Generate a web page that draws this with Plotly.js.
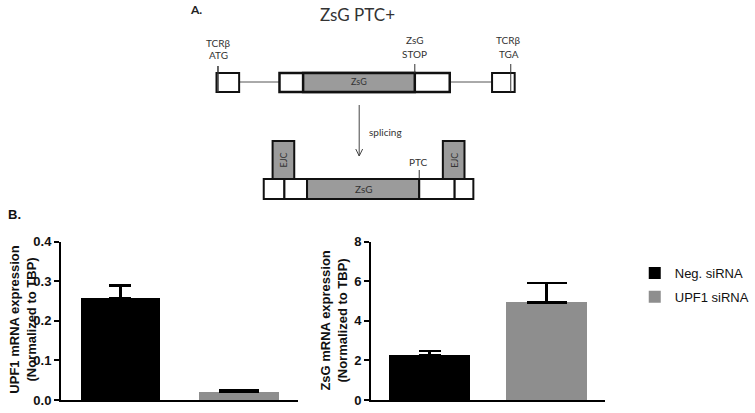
<!DOCTYPE html>
<html><head><meta charset="utf-8">
<script src="https://cdn.plot.ly/plotly-3.0.1.min.js"></script>
<style>html,body{margin:0;padding:0;background:#fff;overflow:hidden;width:755px;height:413px}#chart{width:755px;height:413px;overflow:hidden}</style>
</head><body><div id="chart"></div><script>
// ---- data ----
const categories = ['Neg. siRNA', 'UPF1 siRNA'];
const upf1Values = [0.257, 0.021];
const upf1Errors = [0.032, 0.0025];
const zsgValues = [2.26, 4.93];
const zsgErrors = [0.22, 0.97];
const upf1Ticks = [0, 0.1, 0.2, 0.3, 0.4];
const zsgTicks = [0, 2, 4, 6, 8];

// ---- styles ----
const barColors = ['#000000', '#8e8e8e'];
const capWidths = [11, 20];
const W = 755, H = 413;
const px = x => x / W;
const py = y => 1 - y / H;
const chartFont = {family: 'Liberation Sans, Arial, sans-serif', color: '#111'};
const diaFont = {family: 'Lato, Open Sans, sans-serif', color: '#333'};

const traces = [];
categories.forEach((c, i) => {
  traces.push({
    type: 'bar', x: [c], y: [upf1Values[i]], xaxis: 'x', yaxis: 'y',
    name: c, legendgroup: c, showlegend: true, width: 0.67,
    marker: {color: barColors[i], line: {width: 0}},
    error_y: {type: 'data', symmetric: false, array: [upf1Errors[i]], arrayminus: [0],
      color: '#000', thickness: 2.5, width: capWidths[i]},
    hoverinfo: 'skip'
  });
});
categories.forEach((c, i) => {
  traces.push({
    type: 'bar', x: [c], y: [zsgValues[i]], xaxis: 'x2', yaxis: 'y2',
    name: c, legendgroup: c, showlegend: false, width: 0.69,
    marker: {color: barColors[i], line: {width: 0}},
    error_y: {type: 'data', symmetric: false, array: [zsgErrors[i]], arrayminus: [0],
      color: '#000', thickness: 2.5, width: capWidths[i]},
    hoverinfo: 'skip'
  });
});

const yDom = [py(400), py(241.7)];
const xAxisBase = {type: 'category', categoryorder: 'array', categoryarray: categories,
  range: [-0.5, 1.5], showline: true, linewidth: 2, linecolor: '#000',
  showticklabels: false, ticks: '', showgrid: false, zeroline: false, fixedrange: true};
const yAxisBase = {showline: true, linewidth: 2, linecolor: '#000', ticks: 'outside',
  ticklen: 5, tickwidth: 2, tickcolor: '#000', showgrid: false, zeroline: false,
  tickfont: Object.assign({size: 13, weight: 'bold'}, chartFont), fixedrange: true,
  domain: yDom};

// ---- diagram geometry (not data) ----
function rect(x0, y0, x1, y1, fill, lw) {
  return {type: 'rect', xref: 'paper', yref: 'paper', x0: px(x0), x1: px(x1),
    y0: py(y1), y1: py(y0), fillcolor: fill, line: {color: '#111', width: lw || 2}, layer: 'above'};
}
function line(x0, y0, x1, y1, color, w) {
  return {type: 'line', xref: 'paper', yref: 'paper', x0: px(x0), x1: px(x1),
    y0: py(y0), y1: py(y1), line: {color: color || '#444', width: w || 1}, layer: 'above'};
}
const shapes = [
  // top construct
  line(243, 82, 284, 82, '#555', 1),
  line(457, 82, 500, 82, '#555', 1),
  rect(220, 73, 243, 92, '#fff', 2),
  rect(284, 73, 457, 92, '#fff', 2.5),
  rect(308, 73, 421.5, 92, '#9b9b9b', 2.5),
  rect(500, 73, 523, 92, '#fff', 2),
  line(221.5, 66, 221.5, 92, '#333', 1.5),
  line(421.5, 64, 421.5, 73, '#333', 1),
  line(519, 64, 519, 92, '#333', 1),
  // splicing arrow
  line(365, 105, 365, 156, '#444', 1),
  line(361.5, 149, 365, 156, '#444', 1),
  line(368.5, 149, 365, 156, '#444', 1),
  // bottom construct
  rect(277, 141, 299, 179, '#9b9b9b', 2),
  rect(450, 141, 472, 179, '#9b9b9b', 2),
  rect(268, 179, 289, 199, '#fff', 2),
  rect(289, 179, 312, 199, '#fff', 2),
  rect(312, 179, 426, 199, '#9b9b9b', 2),
  rect(426, 179, 462, 199, '#fff', 2),
  rect(462, 179, 481, 199, '#fff', 2),
  line(426, 170, 426, 179, '#333', 1)
];

function txt(text, x, y, size, extra) {
  return Object.assign({text: text, xref: 'paper', yref: 'paper', x: px(x), y: py(y),
    xanchor: 'center', yanchor: 'middle', showarrow: false,
    font: Object.assign({size: size}, diaFont)}, extra || {});
}
const annotations = [
  txt('A.', 199, 9, 12, {font: Object.assign({size: 12, weight: 'bold'}, diaFont, {color: '#222'})}),
  txt('ZsG PTC+', 363, 14, 17),
  txt('TCRβ', 222, 43, 10), txt('ATG', 222, 55, 10),
  txt('ZsG', 421.5, 40, 10), txt('STOP', 421.5, 54, 10),
  txt('TCRβ', 517, 40, 10), txt('TGA', 517, 54, 10),
  txt('ZsG', 365, 82, 9),
  txt('splicing', 392, 132, 10),
  txt('PTC', 425, 162, 10),
  txt('ZsG', 369, 189, 10),
  txt('EJC', 288, 160, 9, {textangle: -90}),
  txt('EJC', 461, 160, 9, {textangle: -90}),
  {text: 'B.', xref: 'paper', yref: 'paper', x: px(6), y: py(214), xanchor: 'left', yanchor: 'middle',
    showarrow: false, font: Object.assign({size: 13, weight: 'bold'}, chartFont)},
  {text: 'UPF1 mRNA expression<br>(Normalized to TBP)', xref: 'paper', yref: 'paper',
    x: px(23), y: py(320), xanchor: 'center', yanchor: 'middle', textangle: -90, showarrow: false,
    font: Object.assign({size: 13, weight: 'bold'}, chartFont)},
  {text: 'ZsG mRNA expression<br>(Normalized to TBP)', xref: 'paper', yref: 'paper',
    x: px(339), y: py(321), xanchor: 'center', yanchor: 'middle', textangle: -90, showarrow: false,
    font: Object.assign({size: 13, weight: 'bold'}, chartFont)}
];

const layout = {
  width: W, height: H, margin: {l: 0, r: 0, t: 0, b: 0},
  paper_bgcolor: '#fff', plot_bgcolor: 'rgba(0,0,0,0)',
  barmode: 'overlay', bargap: 0,
  font: chartFont,
  xaxis: Object.assign({domain: [px(62), px(303)], anchor: 'y'}, xAxisBase),
  yaxis: Object.assign({anchor: 'x', range: [0, 0.4], tickvals: upf1Ticks, tickformat: '.1f'}, yAxisBase),
  xaxis2: Object.assign({domain: [px(377), px(615)], anchor: 'y2'}, xAxisBase),
  yaxis2: Object.assign({anchor: 'x2', range: [0, 8], tickvals: zsgTicks, tickformat: 'd'}, yAxisBase),
  showlegend: true,
  legend: {x: px(645), y: py(258), xanchor: 'left', yanchor: 'top', bgcolor: 'rgba(0,0,0,0)',
    font: Object.assign({size: 13}, chartFont), tracegroupgap: 4, itemwidth: 30},
  shapes: shapes,
  annotations: annotations
};

Plotly.newPlot('chart', traces, layout, {staticPlot: true, displayModeBar: false});
</script></body></html>
